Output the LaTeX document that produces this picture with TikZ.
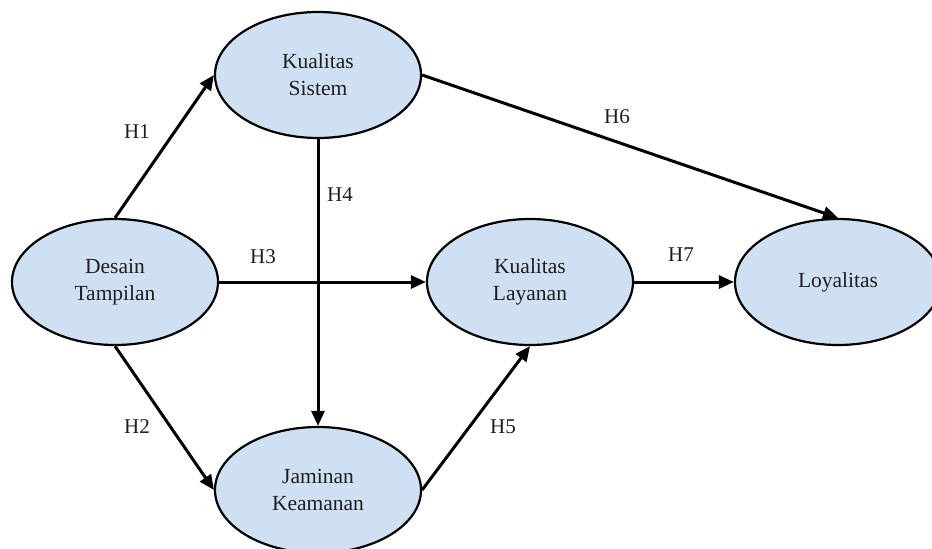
\documentclass[tikz,border=0pt]{standalone}
\usepackage{fontspec}
\setmainfont{Liberation Serif}
\usetikzlibrary{arrows.meta,shapes.geometric}
\definecolor{fillblue}{RGB}{207,224,242}
\definecolor{txt}{RGB}{30,30,30}
\tikzset{
  var/.style={ellipse, draw=black, line width=2.2pt, fill=fillblue, minimum width=206pt, minimum height=126pt, inner sep=0pt, align=center, font=\fontsize{21.5}{27}\selectfont, text=txt},
  link/.style={-{Triangle[length=15pt,width=13pt]}, line width=3pt},
  lab/.style={font=\fontsize{21}{24}\selectfont, text=txt, inner sep=0pt}
}
\begin{document}
\begin{tikzpicture}[x=1pt,y=-1pt]
\clip (0,0) rectangle (932,549);
\fill[white] (0,0) rectangle (932,549);
\node[var] (S) at (318,75) {Kualitas\\Sistem};
\node[var] (D) at (115,282) {Desain\\Tampilan};
\node[var] (L) at (530,282) {Kualitas\\Layanan};
\node[var] (Y) at (838,282) {Loyalitas};
\node[var] (J) at (318,490) {Jaminan\\Keamanan};
\draw[link] (D.north) -- (S.west);
\draw[link] (D.south) -- (J.west);
\draw[link] (D.east) -- (L.west);
\draw[link] (S.south) -- (J.north);
\draw[link] (J.east) -- (L.south);
\draw[link] (S.east) -- (Y.north);
\draw[link] (L.east) -- (Y.west);
\node[lab] (h1) at (137,132) {H1};
\node[lab] (h2) at (137,427) {H2};
\node[lab] (h3) at (263,257) {H3};
\node[lab] (h4) at (340,195) {H4};
\node[lab] (h5) at (503,427) {H5};
\node[lab] (h6) at (617,117) {H6};
\node[lab] (h7) at (681,255) {H7};
\end{tikzpicture}
\end{document}
